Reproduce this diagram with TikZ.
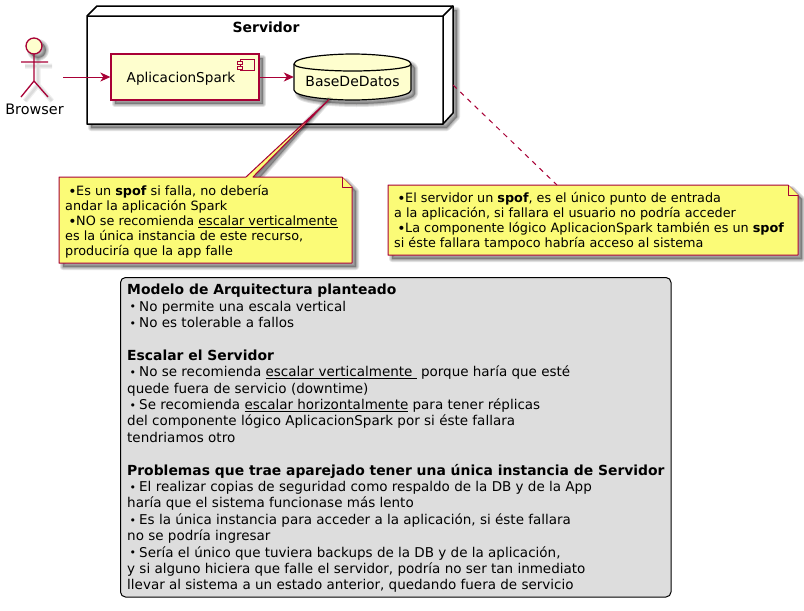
\documentclass[tikz,border=0pt]{standalone}
\usepackage{fontspec}
\setmainfont{DejaVu Sans}
\usetikzlibrary{arrows.meta}
\definecolor{umlred}{HTML}{A80036}
\definecolor{umlfill}{HTML}{FEFECE}
\definecolor{notefill}{HTML}{FBFB77}
\definecolor{legfill}{HTML}{DDDDDD}
\newcommand\shad[1]{\foreach \w in {6,4,2}{\path[xshift=4pt,yshift=-4pt,draw=black,fill=black,line width=\w pt,opacity=.11,line join=round,line cap=round] #1;}}
\newcommand\shadl[1]{\foreach \w in {5,2.5}{\path[xshift=4pt,yshift=-4pt,draw=black,line width=\w pt,opacity=.07] #1;}}
\newcommand\nb{\makebox[11pt][r]{{\fontsize{14}{14}\selectfont\raisebox{-0.6pt}{•}}\hspace{-0.5pt}}}
\newcommand\lb{\makebox[12pt][r]{{\fontsize{11}{11}\selectfont\raisebox{0.2pt}{•}}\hspace{3pt}}}
\newcommand\ul[1]{\underline{#1}}
\newcommand\lh[1]{{\fontsize{13.9}{16.39}\selectfont\bfseries #1}}
\tikzset{
 x=1pt,y=-1pt,
 umlbox/.style={draw=umlred,line width=1.3pt,fill=umlfill},
 flow/.style={draw=umlred,line width=1pt,-{Stealth[length=10pt,width=9pt,inset=3pt,fill=umlred]}},
 notebox/.style={draw=umlred,line width=1pt,fill=notefill,line join=round},
 notetext/.style={inner sep=0pt,anchor=north west,align=left,font=\fontsize{12.8}{15}\selectfont},
 legtext/.style={inner sep=0pt,anchor=north west,align=left,font=\fontsize{13.5}{16.39}\selectfont},
 plain/.style={inner sep=0pt,font=\fontsize{14}{16.3}\selectfont},
}
\begin{document}
\begin{tikzpicture}
\useasboundingbox (0,0) rectangle (804,611);
\fill[white] (0,0) rectangle (804,611);
% ---- server node
\shad{(87,16) -- (97,6) -- (453,6) -- (453,113) -- (443,124) -- (87,124) -- cycle}
\draw[black,line width=1.5pt,fill=white,line join=round] (87,16) -- (97,6) -- (453,6) -- (453,113) -- (443,124) -- (87,124) -- cycle;
\draw[black,line width=1.5pt,line join=round] (87,16) -- (443,16) -- (443,124) (443,16) -- (453,6);
\node[plain,font=\fontsize{14}{16.3}\selectfont\bfseries] (srvtitle) at (266,27) {Servidor};
\node[inner sep=0pt,minimum width=356pt,minimum height=108pt] (srv) at (265,70) {};
% ---- actor
\shad{(34,46) circle (8)}
\shadl{(34,54) -- (34,81) (21,62) -- (48,62) (34,81) -- (21,97) (34,81) -- (48,97)}
\draw[umlbox] (34,46) circle (8);
\draw[umlred,line width=1.3pt] (34,54) -- (34,81) (21,62) -- (48,62) (34,81) -- (21,97) (34,81) -- (48,97);
\node[plain,font=\fontsize{14.4}{16.3}\selectfont] (browser) at (34.5,109) {Browser};
\coordinate (actorout) at (63,77);
% ---- component
\shad{(111,54) rectangle (259,100)}
\node[umlbox,inner sep=0pt,minimum width=148pt,minimum height=46pt,font=\fontsize{13.6}{16.3}\selectfont] (spark) at (185,77) {\hspace*{-8pt}\raisebox{-5pt}[0pt][0pt]{AplicacionSpark}};
\draw[umlred,line width=1pt,fill=umlfill] (240,59) rectangle (254,70);
\draw[umlred,line width=1pt,fill=umlfill] (237,61) rectangle (242,64);
\draw[umlred,line width=1pt,fill=umlfill] (237,66) rectangle (242,69);
% ---- database
\shad{(294,64) .. controls (294,57) and (330,54) .. (352.5,54) .. controls (375,54) and (411,57) .. (411,64) -- (411,90) .. controls (411,97) and (375,100) .. (352.5,100) .. controls (330,100) and (294,97) .. (294,90) -- cycle}
\draw[umlbox,draw=black,line width=1.2pt] (294,64) .. controls (294,57) and (330,54) .. (352.5,54) .. controls (375,54) and (411,57) .. (411,64) -- (411,90) .. controls (411,97) and (375,100) .. (352.5,100) .. controls (330,100) and (294,97) .. (294,90) -- cycle;
\draw[black,line width=1.2pt] (294,64) .. controls (294,69) and (330,71) .. (352.5,71) .. controls (375,71) and (411,69) .. (411,64);
\node[inner sep=0pt,minimum width=117pt,minimum height=46pt,font=\fontsize{14}{16.3}\selectfont] (db) at (352.5,77) {\raisebox{-9pt}[0pt][0pt]{BaseDeDatos}};
% ---- flows
\draw[flow] (actorout) -- (spark.west);
\draw[flow] (spark.east) -- (db.west);
% ---- left note
\coordinate (n1tip) at (329,99.5);
\shad{(59,177) -- (246,177) -- (n1tip) -- (253,177) -- (342,177) -- (352,187) -- (352,263) -- (59,263) -- cycle}
\draw[notebox] (59,177) -- (246,177) -- (n1tip) -- (253,177) -- (342,177) -- (352,187) -- (352,263) -- (59,263) -- cycle;
\draw[notebox] (342,177) -- (342,187) -- (352,187);
\node[notetext] (note1) at (65,185) {\nb Es un \textbf{spof} si falla, no debería\\andar la aplicación Spark\\\nb NO se recomienda \ul{escalar verticalmente}\\es la única instancia de este recurso,\\produciría que la app falle};
% ---- right note
\coordinate (srvcorner) at (453,85);
\coordinate (n2tip) at (557,185);
\shad{(388,185) -- (788,185) -- (798,195) -- (798,255) -- (388,255) -- cycle}
\draw[notebox] (388,185) -- (788,185) -- (798,195) -- (798,255) -- (388,255) -- cycle;
\draw[notebox] (788,185) -- (788,195) -- (798,195);
\draw[umlred,line width=1pt,dash pattern=on 5pt off 5pt] (srvcorner) -- (n2tip);
\node[notetext] (note2) at (394,192) {\nb El servidor un \textbf{spof}, es el único punto de entrada\\a la aplicación, si fallara el usuario no podría acceder\\\nb La componente lógico AplicacionSpark también es un \textbf{spof}\\si éste fallara tampoco habría acceso al sistema};
% ---- legend
\draw[black,line width=1pt,fill=legfill,rounded corners=5pt] (120.5,277.5) rectangle (671,597);
\node[legtext] (legend) at (127,284) {\lh{Modelo de Arquitectura planteado}\\\lb No permite una escala vertical\\\lb No es tolerable a fallos\\[16.39pt]\lh{Escalar el Servidor}\\\lb No se recomienda \ul{escalar verticalmente\ } porque haría que esté\\quede fuera de servicio (downtime)\\\lb Se recomienda \ul{escalar horizontalmente} para tener réplicas\\del componente lógico AplicacionSpark por si éste fallara\\tendriamos otro\\[16.39pt]\lh{Problemas que trae aparejado tener una única instancia de Servidor}\\\lb El realizar copias de seguridad como respaldo de la DB y de la App\\haría que el sistema funcionase más lento\\\lb Es la única instancia para acceder a la aplicación, si éste fallara\\no se podría ingresar\\\lb Sería el único que tuviera backups de la DB y de la aplicación,\\y si alguno hiciera que falle el servidor, podría no ser tan inmediato\\llevar al sistema a un estado anterior, quedando fuera de servicio};
\end{tikzpicture}
\end{document}
